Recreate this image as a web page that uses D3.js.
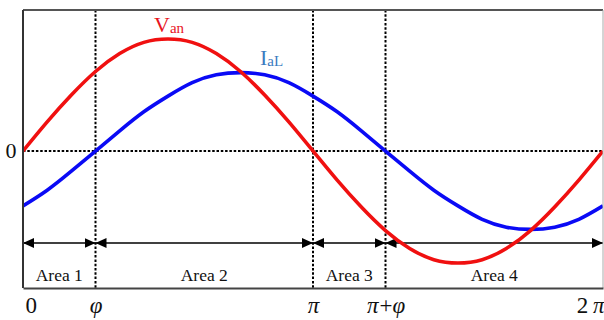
<!DOCTYPE html>
<html>
<head>
<meta charset="utf-8">
<script src="https://cdn.jsdelivr.net/npm/d3@7"></script>
<style>
  html, body { margin: 0; padding: 0; background: #fff; }
  svg { display: block; font-family: "Liberation Serif", "Times New Roman", serif; }
</style>
</head>
<body>
<svg id="chart" width="604" height="320"></svg>
<script>
// Electrical angle of each sample, in degrees (one full period)
const angleDeg = [0, 15, 30, 45, 60, 75, 90, 105, 120, 135, 150, 165, 180,
                  195, 210, 225, 240, 255, 270, 285, 300, 315, 330, 345, 360];
// Phase voltage V_an (per unit)
const vAn = [0, 0.26, 0.5, 0.71, 0.87, 0.97, 1, 0.97, 0.87, 0.71, 0.5, 0.26, 0,
             -0.26, -0.5, -0.71, -0.87, -0.97, -1, -0.97, -0.87, -0.71, -0.5, -0.26, 0];
// Load current I_aL (per unit), lagging the voltage by phi
const iAL = [-0.49, -0.35, -0.18, 0, 0.18, 0.35, 0.49, 0.61, 0.68, 0.7, 0.68, 0.61, 0.49,
             0.35, 0.18, 0, -0.18, -0.35, -0.49, -0.61, -0.68, -0.7, -0.68, -0.61, -0.49];

// Boundaries (degrees) and their tick labels
const phiDeg = 45;
const tickDeg = [0, phiDeg, 180, 180 + phiDeg, 360];
const tickLabels = ["0", "\u03C6", "\u03C0", "\u03C0+\u03C6", "2\u2009\u03C0"];
// Operating areas between the boundaries
const areaNames = ["Area 1", "Area 2", "Area 3", "Area 4"];
const areaStart = [0, phiDeg, 180, 180 + phiDeg];
const areaEnd = [phiDeg, 180, 180 + phiDeg, 360];

const svg = d3.select("#chart");
const plotLeft = 23, plotRight = 603, plotTop = 10, plotBottom = 288;

const x = d3.scaleLinear().domain([0, 360]).range([plotLeft, plotRight]);
const y = d3.scaleLinear().domain([-1.223, 1.259]).range([plotBottom, plotTop]);

const defs = svg.append("defs");
defs.append("clipPath").attr("id", "plotClip")
  .append("rect").attr("x", plotLeft).attr("y", plotTop)
  .attr("width", plotRight - plotLeft).attr("height", plotBottom - plotTop);

function arrowMarker(id, orient) {
  defs.append("marker")
    .attr("id", id)
    .attr("markerUnits", "userSpaceOnUse")
    .attr("viewBox", "0 0 11 10")
    .attr("refX", 11).attr("refY", 5)
    .attr("markerWidth", 11).attr("markerHeight", 10)
    .attr("orient", orient)
    .append("path").attr("d", "M0,0 L11,5 L0,10 Z").attr("fill", "#000");
}
arrowMarker("arrowEnd", "auto");
arrowMarker("arrowStart", "auto-start-reverse");

// Zero reference line
svg.append("line")
  .attr("x1", plotLeft).attr("x2", plotRight)
  .attr("y1", y(0)).attr("y2", y(0))
  .attr("stroke", "#000").attr("stroke-width", 2)
  .attr("stroke-dasharray", "2.5,1.8");

// Vertical boundary lines at phi, pi, pi+phi
svg.selectAll("line.bound")
  .data(tickDeg.slice(1, 4))
  .join("line").attr("class", "bound")
  .attr("x1", d => x(d)).attr("x2", d => x(d))
  .attr("y1", plotTop).attr("y2", plotBottom)
  .attr("stroke", "#000").attr("stroke-width", 2)
  .attr("stroke-dasharray", "2.5,1.8");

// Area arrows
const arrowY = 243;
const areas = areaNames.map((n, i) => ({ name: n, a: areaStart[i], b: areaEnd[i] }));
svg.selectAll("line.area")
  .data(areas)
  .join("line").attr("class", "area")
  .attr("x1", d => x(d.a)).attr("x2", d => x(d.b))
  .attr("y1", arrowY).attr("y2", arrowY)
  .attr("stroke", "#000").attr("stroke-width", 1.3)
  .attr("marker-start", "url(#arrowStart)")
  .attr("marker-end", "url(#arrowEnd)");

svg.selectAll("text.area")
  .data(areas)
  .join("text").attr("class", "area")
  .attr("x", d => (x(d.a) + x(d.b)) / 2)
  .attr("y", 281)
  .attr("text-anchor", "middle")
  .attr("font-size", 17.5)
  .attr("fill", "#111")
  .text(d => d.name);

// Waveforms
const line = d3.line()
  .x((d, i) => x(angleDeg[i]))
  .y(d => y(d))
  .curve(d3.curveNatural);

const plot = svg.append("g").attr("clip-path", "url(#plotClip)");
plot.append("path").datum(iAL)
  .attr("d", line).attr("fill", "none")
  .attr("stroke", "#0a0af5").attr("stroke-width", 3.6);
plot.append("path").datum(vAn)
  .attr("d", line).attr("fill", "none")
  .attr("stroke", "#f01010").attr("stroke-width", 3.6);

// Frame
svg.append("line").attr("x1", plotLeft).attr("x2", plotRight).attr("y1", plotTop).attr("y2", plotTop)
  .attr("stroke", "#555").attr("stroke-width", 2);
svg.append("line").attr("x1", plotLeft).attr("x2", plotLeft).attr("y1", plotTop).attr("y2", plotBottom)
  .attr("stroke", "#333").attr("stroke-width", 2);
svg.append("line").attr("x1", plotRight).attr("x2", plotRight).attr("y1", plotTop).attr("y2", plotBottom)
  .attr("stroke", "#aaa").attr("stroke-width", 1);

// Bottom axis with angle labels
const xAxis = d3.axisBottom(x)
  .tickValues(tickDeg)
  .tickSize(0)
  .tickPadding(0)
  .tickFormat((d, i) => tickLabels[i]);
const axisG = svg.append("g").attr("transform", `translate(0,${plotBottom})`).call(xAxis);
axisG.select(".domain").attr("stroke", "#444").attr("stroke-width", 2);
axisG.selectAll(".tick text")
  .attr("font-family", "Liberation Serif, serif")
  .attr("font-size", 23)
  .attr("fill", "#111")
  .attr("dy", null)
  .attr("y", 25)
  .attr("text-anchor", (d, i) => i === 0 ? "start" : i === 4 ? "end" : "middle")
  .attr("dx", (d, i) => i === 0 ? 2 : i === 4 ? 1 : 0)
  .each(function () {
    // Greek symbols set in italic, digits and operators upright
    const t = d3.select(this);
    const chars = Array.from(t.text());
    t.text(null);
    chars.forEach(c => {
      const greek = c === "\u03C0" || c === "\u03C6";
      t.append("tspan")
        .attr("font-style", greek ? "italic" : null)
        .attr("dx", c === "+" ? 1 : null)
        .text(c);
    });
  });

// Zero label on the vertical axis
svg.append("text")
  .attr("x", 11).attr("y", y(0) + 7)
  .attr("text-anchor", "middle")
  .attr("font-size", 22).attr("fill", "#111")
  .text("0");

// Series labels
const vLab = svg.append("text").attr("x", 154).attr("y", 32).attr("fill", "#e8141e");
vLab.append("tspan").attr("font-size", 22).text("V");
vLab.append("tspan").attr("font-size", 15).attr("dy", 1).text("an");

const iLab = svg.append("text").attr("x", 260).attr("y", 65).attr("fill", "#3b7bbf");
iLab.append("tspan").attr("font-size", 22).text("I");
iLab.append("tspan").attr("font-size", 15).attr("dy", 1).text("aL");
</script>
</body>
</html>
